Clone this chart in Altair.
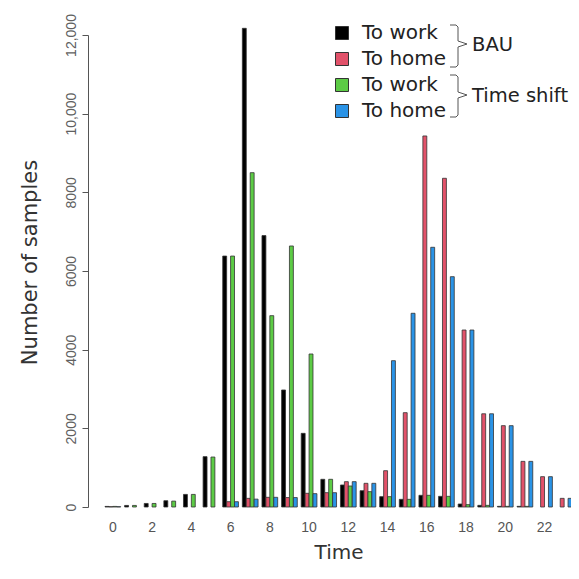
import altair as alt
import pandas as pd

hours = list(range(24))
series_keys = ["BAU|To work", "BAU|To home", "TS|To work", "TS|To home"]
series_colors = ["#000000", "#E2526A", "#5CCB45", "#2A93E6"]

bau_work = [15, 40, 90, 160, 320, 1280, 6380, 12170, 6900, 2975, 1873, 704,
            560, 415, 263, 195, 297, 271, 76, 42, 17, 17, 0, 0]
bau_home = [8, 0, 0, 0, 0, 0, 135, 220, 246, 240, 348, 364,
            644, 602, 923, 2398, 9433, 8357, 4500, 2370, 2068, 1160, 771, 220]
ts_work = [15, 40, 90, 150, 320, 1270, 6380, 8500, 4865, 6636, 3890, 704,
           534, 390, 263, 195, 297, 271, 60, 42, 17, 17, 0, 0]
ts_home = [8, 0, 0, 0, 0, 0, 135, 200, 246, 240, 340, 364,
           644, 602, 3720, 4925, 6603, 5856, 4500, 2370, 2068, 1160, 771, 220]

y_ticks = [0, 2000, 4000, 6000, 8000, 10000, 12000]
group_names = ["BAU", "Time shift"]

rows = []
for key, vals in zip(series_keys, [bau_work, bau_home, ts_work, ts_home]):
    for h, v in zip(hours, vals):
        rows.append({"hour": h, "series": key, "value": v})
df = pd.DataFrame(rows)

bars = alt.Chart(df).transform_filter("datum.value > 0").mark_bar(
    stroke="#333333", strokeWidth=0.8
).encode(
    x=alt.X("hour:O",
            scale=alt.Scale(paddingInner=0.2, paddingOuter=0),
            axis=alt.Axis(labelExpr="datum.value % 2 == 0 ? datum.label : ''",
                          labelAngle=0, ticks=False, domain=False,
                          labelFont="Liberation Sans", labelFontSize=14,
                          labelColor="#555555", labelPadding=13,
                          title="Time", titleFont="DejaVu Sans", titleFontSize=20,
                          titleFontWeight="normal", titleColor="#333333",
                          titlePadding=8)),
    xOffset=alt.XOffset("series:N",
                        scale=alt.Scale(domain=series_keys, paddingInner=0, paddingOuter=0)),
    y=alt.Y("value:Q",
            scale=alt.Scale(domain=[0, 12000], nice=False),
            axis=alt.Axis(values=y_ticks, grid=False, offset=17, tickSize=6,
                          labelExpr="datum.value >= 10000 ? format(datum.value, ',') : format(datum.value, 'd')",
                          labelAngle=270, labelAlign="center", labelBaseline="bottom",
                          labelFont="Liberation Sans", labelFontSize=14,
                          labelColor="#606060", labelPadding=4,
                          domainColor="#555555", tickColor="#555555",
                          title="Number of samples", titleFont="DejaVu Sans",
                          titleFontSize=21, titleFontWeight="normal",
                          titleColor="#333333", titlePadding=24, titleY=227)),
    color=alt.Color("series:N",
                    scale=alt.Scale(domain=series_keys, range=series_colors),
                    legend=alt.Legend(orient="none", legendX=227, legendY=-12,
                                      title=None, symbolType="square", symbolSize=169,
                                      symbolStrokeColor="#333333", symbolStrokeWidth=1,
                                      labelFont="DejaVu Sans", labelFontSize=20,
                                      labelColor="#222222", labelOffset=10,
                                      rowPadding=6, padding=0,
                                      labelExpr="split(datum.label, '|')[1]")),
)


def text_layer(txt, x, y, **kw):
    return alt.Chart(pd.DataFrame({"t": [txt]})).mark_text(
        align="left", baseline="middle", **kw
    ).encode(x=alt.value(x), y=alt.value(y), text="t:N")


def brace(xv, top, bot, mid, tip=9, hook=8, curl=2):
    segs = [
        (xv - hook, top, xv - curl, top),
        (xv - curl, top, xv, top + curl),
        (xv, top + curl, xv, mid - 3),
        (xv, mid - 3, xv + tip, mid),
        (xv + tip, mid, xv, mid + 3),
        (xv, mid + 3, xv, bot - curl),
        (xv, bot - curl, xv - curl, bot),
        (xv - curl, bot, xv - hook, bot),
    ]
    layers = []
    for x1, y1, x2, y2 in segs:
        layers.append(
            alt.Chart(pd.DataFrame({"k": [0]})).mark_rule(
                color="#555555", strokeWidth=1
            ).encode(x=alt.value(x1), x2=alt.value(x2), y=alt.value(y1), y2=alt.value(y2))
        )
    return layers


bau_label = text_layer(group_names[0], 367, 10, font="DejaVu Sans", fontSize=19.5, color="#222222")
ts_label = text_layer(group_names[1], 367, 61, font="DejaVu Sans", fontSize=19.5, color="#222222")

layers = [bars, bau_label, ts_label] + brace(353, -10, 32, 9) + brace(353, 40, 82, 60)

chart = alt.layer(*layers).properties(
    width=467, height=472,
    autosize=alt.AutoSizeParams(type="none"),
    padding={"left": 97, "top": 27, "right": -1, "bottom": 59},
).configure_view(stroke="transparent")

chart.save("out.html", embed_options={"renderer": "svg", "actions": False})
